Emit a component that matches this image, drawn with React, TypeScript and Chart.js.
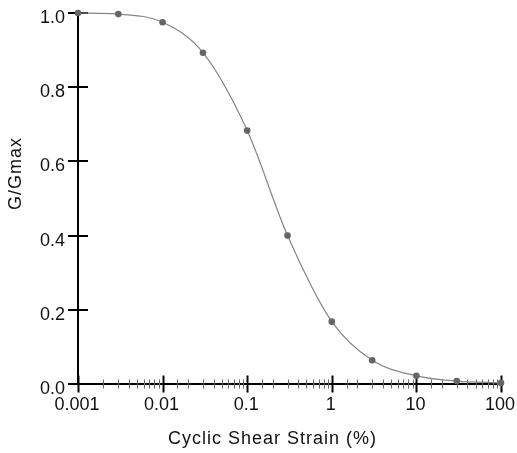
import React, { useEffect, useRef } from "react";
import { Chart, registerables } from "chart.js";

Chart.register(...registerables);

// ---- data ----
const strainPct = [0.001, 0.003, 0.01, 0.03, 0.1, 0.3, 1, 3, 10, 30, 100];
const gRatio = [1.0, 0.997, 0.975, 0.893, 0.683, 0.4, 0.168, 0.064, 0.022, 0.008, 0.003];
const xDecades = [0.001, 0.01, 0.1, 1, 10, 100];
const xTickLabels = ["0.001", "0.01", "0.1", "1", "10", "100"];
const yTickLabels = ["0.0", "0.2", "0.4", "0.6", "0.8", "1.0"];

const FONT = "'Liberation Sans', Arial, Helvetica, sans-serif";

function decadeIndex(v: number): number {
  const lv = Math.log10(v);
  for (let i = 0; i < xDecades.length; i++) {
    if (Math.abs(lv - Math.log10(xDecades[i])) < 1e-6) return i;
  }
  return -1;
}

function noOverflowPadding(s: any) {
  s.paddingTop = 0;
  s.paddingBottom = 0;
  s.paddingLeft = 0;
  s.paddingRight = 0;
}

const crossTicks = {
  id: "crossTicks",
  beforeDatasetsDraw(chart: any) {
    const { ctx, scales, chartArea } = chart;
    const x = scales.x;
    const y = scales.y;
    ctx.save();
    x.ticks.forEach((t: any) => {
      const px = Math.round(x.getPixelForValue(t.value)) + 0.5;
      const major = decadeIndex(t.value) >= 0;
      const len = major ? 8.5 : 4.5;
      ctx.lineWidth = major ? 2 : 1;
      ctx.strokeStyle = major ? "#000" : "#666";
      ctx.beginPath();
      ctx.moveTo(px, chartArea.bottom - len);
      ctx.lineTo(px, chartArea.bottom + len);
      ctx.stroke();
    });
    y.ticks.forEach((t: any) => {
      const py = Math.round(y.getPixelForValue(t.value));
      ctx.lineWidth = 2;
      ctx.strokeStyle = "#000";
      ctx.beginPath();
      ctx.moveTo(chartArea.left - 10, py);
      ctx.lineTo(chartArea.left + 10, py);
      ctx.stroke();
    });
    ctx.restore();
  },
};

const titleStyle = {
  id: "titleStyle",
  afterUpdate(chart: any) {
    const shifts: Array<[string, number, number]> = [
      ["x", -17, 0],
      ["y", 0, -25],
    ];
    for (const [id, dx, dy] of shifts) {
      const s = chart.scales[id];
      if (!s || s.__wrappedTitle) continue;
      const orig = s.drawTitle;
      s.drawTitle = function () {
        const c = this.ctx;
        c.save();
        c.letterSpacing = "1px";
        c.translate(dx, dy);
        orig.call(this);
        c.restore();
      };
      s.__wrappedTitle = true;
    }
  },
};

export default function App() {
  const ref = useRef<HTMLCanvasElement | null>(null);

  useEffect(() => {
    if (!ref.current) return;
    const chart = new Chart(ref.current, {
      type: "line",
      data: {
        datasets: [
          {
            data: strainPct.map((v, i) => ({ x: v, y: gRatio[i] })),
            borderColor: "#858585",
            borderWidth: 1.2,
            pointRadius: 3.3,
            pointBackgroundColor: "#666666",
            pointBorderWidth: 0,
            cubicInterpolationMode: "monotone",
            clip: false as any,
          },
        ],
      },
      plugins: [crossTicks, titleStyle],
      options: {
        animation: false,
        responsive: false,
        devicePixelRatio: 1,
        layout: { padding: { top: 13, right: 16, left: 0, bottom: 0 } },
        plugins: { legend: { display: false }, tooltip: { enabled: false } },
        scales: {
          x: {
            type: "logarithmic",
            min: 0.001,
            max: 100,
            grid: { display: false, drawTicks: false },
            border: { display: true, color: "#000", width: 2 },
            ticks: {
              autoSkip: false,
              maxRotation: 0,
              minRotation: 0,
              padding: 10,
              labelOffset: -1,
              color: "#111",
              font: { family: FONT, size: 18 },
              callback: (v: any) => {
                const i = decadeIndex(Number(v));
                return i >= 0 ? xTickLabels[i] : "";
              },
            },
            title: {
              display: true,
              text: "Cyclic Shear Strain (%)",
              color: "#111",
              font: { family: FONT, size: 18 },
              padding: { top: 0, bottom: 3 },
            },
            afterFit: (s: any) => {
              s.height = 69;
              noOverflowPadding(s);
            },
          },
          y: {
            min: 0,
            max: 1,
            grid: { display: false, drawTicks: false },
            border: { display: true, color: "#000", width: 2 },
            ticks: {
              stepSize: 0.2,
              padding: 13,
              labelOffset: 5,
              color: "#111",
              font: { family: FONT, size: 18 },
              callback: (v: any) => yTickLabels[Math.round(Number(v) / 0.2)] ?? "",
            },
            title: {
              display: true,
              text: "G/Gmax",
              color: "#111",
              font: { family: FONT, size: 18 },
              padding: { top: 5, bottom: 0 },
            },
            afterFit: (s: any) => {
              s.width = 78;
              noOverflowPadding(s);
            },
          },
        },
      },
    } as any);
    return () => chart.destroy();
  }, []);

  return (
    <div style={{ position: "absolute", left: 0, top: 0, width: 517, height: 453, background: "#fff" }}>
      <canvas ref={ref} width={517} height={453} style={{ display: "block" }} />
    </div>
  );
}
